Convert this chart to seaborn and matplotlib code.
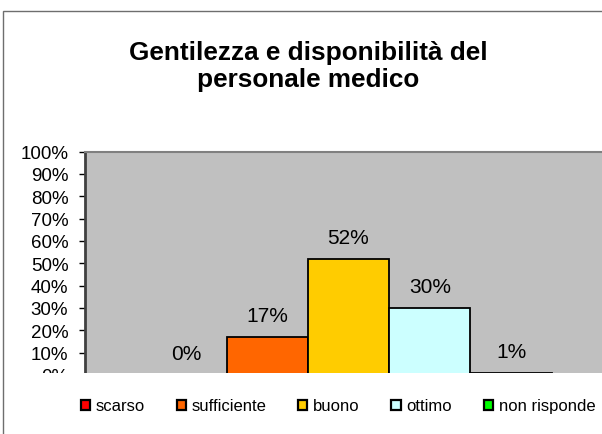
import numpy as np
import pandas as pd
import seaborn as sns
import matplotlib.pyplot as plt
from matplotlib.patches import Patch, Rectangle
from matplotlib.ticker import PercentFormatter, MultipleLocator

# chart data
categories = ["scarso", "sufficiente", "buono", "ottimo", "non risponde"]
values = [0.00, 0.17, 0.52, 0.30, 0.01]
labels = ["0%", "17%", "52%", "30%", "1%"]
colors = ["#FF0000", "#FF6600", "#FFCC00", "#CCFFFF", "#00FF00"]
title = "Gentilezza e disponibilità del\npersonale medico"

sns.set_style("white")
plt.rcParams["font.family"] = ["Liberation Sans", "DejaVu Sans"]
plt.rcParams["text.color"] = "black"
plt.rcParams["ytick.color"] = "black"
plt.rcParams["ytick.labelcolor"] = "black"

W, H = 602, 435
fig = plt.figure(figsize=(W / 100, H / 100), dpi=100)


def px(x0, y0, x1, y1):
    # pixel box (top-left origin) -> figure fraction rect
    return [x0 / W, 1 - y1 / H, (x1 - x0) / W, (y1 - y0) / H]


# chart area border
fig.patches.append(Rectangle((3 / W, -0.1), 1.2, 1 - 12 / H + 0.1,
                             transform=fig.transFigure, fill=False,
                             edgecolor="#6e6e6e", lw=1.0, zorder=0))

ax = fig.add_axes(px(85, 152.5, 612, 376))
ax.set_facecolor("#C0C0C0")

df = pd.DataFrame({"cat": categories, "val": values})
sns.barplot(data=df, x="cat", y="val", hue="cat", palette=colors,
            saturation=1, width=1.0, edgecolor="black", linewidth=1.3,
            legend=False, ax=ax, zorder=3)

ax.set_xlim(-1.24, 5.24)
ax.set_ylim(0, 1)
ax.yaxis.set_major_locator(MultipleLocator(0.1))
ax.yaxis.set_major_formatter(PercentFormatter(1, decimals=0))
ax.tick_params(axis="y", left=True, length=4, width=1, color="black",
               labelcolor="black", labelsize=13.5, pad=8)
ax.tick_params(axis="x", bottom=False, labelbottom=False)
ax.set_xlabel("")
ax.set_ylabel("")

for s in ["top", "right"]:
    ax.spines[s].set_color("#808080")
    ax.spines[s].set_linewidth(1.5)
ax.spines["left"].set_color("#404040")
ax.spines["left"].set_linewidth(2)
ax.spines["bottom"].set_visible(False)

for i, (v, lab) in enumerate(zip(values, labels)):
    ax.annotate(lab, (i, v), xytext=(0, 15.5), textcoords="offset points",
                ha="center", va="center", fontsize=15, color="black",
                zorder=5)

# the bottom of the plot area is cut off in the original
fig.patches.append(Rectangle((5 / W, 0), 1, 1 - 373.8 / H,
                             transform=fig.transFigure, facecolor="white",
                             edgecolor="none", zorder=10))

fig.text(308.5 / W, 1 - 66.5 / H, title, ha="center", va="center",
         fontsize=18.8, fontweight="bold", linespacing=1.2, color="black")

handles = [Patch(facecolor=c, edgecolor="black", lw=1.6) for c in colors]
leg = fig.legend(handles, categories, loc="center", ncol=5,
                 bbox_to_anchor=(338 / W, 1 - 407 / H), frameon=False,
                 fontsize=12, handlelength=0.55, handleheight=0.55,
                 handletextpad=0.35, columnspacing=1.9, borderpad=0)
for t in leg.get_texts():
    t.set_color("black")
leg.set_zorder(20)

fig.savefig("out.png", dpi=100)
